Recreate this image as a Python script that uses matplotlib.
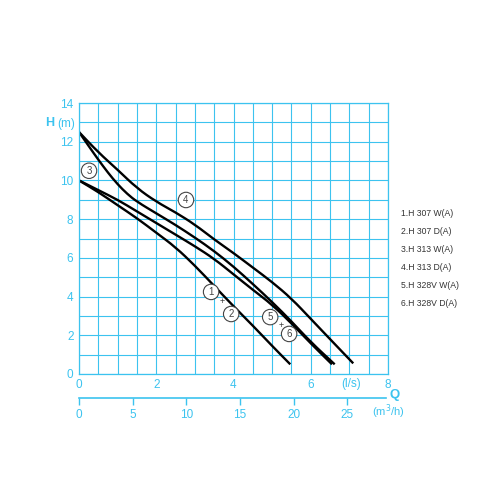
import numpy as np
import matplotlib.pyplot as plt
from matplotlib.path import Path
from matplotlib.patches import PathPatch

# pump curves, Q in l/s, H in m
q1 = [0, 0.5, 1.0, 1.5, 2.0, 2.5, 3.0, 3.5, 4.0, 4.5, 5.0, 5.47]
h1 = [10.0, 9.4, 8.72, 8.05, 7.3, 6.55, 5.6, 4.55, 3.5, 2.5, 1.45, 0.5]

q3 = [0, 0.25, 0.5, 0.75, 1.0, 1.25, 1.5, 2.0, 2.5, 3.0, 3.5, 4.0, 4.5, 5.0, 5.5, 6.0, 6.62]
h3 = [12.5, 11.78, 11.07, 10.4, 9.8, 9.3, 8.9, 8.3, 7.7, 7.05, 6.35, 5.55, 4.65, 3.72, 2.72, 1.65, 0.5]

q4 = [0, 0.5, 1.0, 1.5, 2.0, 2.5, 3.0, 3.5, 4.0, 4.5, 5.0, 5.5, 6.0, 6.5, 7.1]
h4 = [12.5, 11.45, 10.55, 9.6, 8.9, 8.35, 7.72, 6.95, 6.25, 5.5, 4.75, 3.9, 2.85, 1.8, 0.55]

q5 = [0, 0.5, 1.0, 1.5, 2.0, 2.5, 3.0, 3.5, 4.0, 4.5, 5.0, 5.5, 6.0, 6.55]
h5 = [10.0, 9.5, 9.0, 8.4, 7.8, 7.2, 6.6, 5.95, 5.15, 4.35, 3.58, 2.62, 1.58, 0.5]

legend_labels = ['1.H 307 W(A)', '2.H 307 D(A)', '3.H 313 W(A)',
                 '4.H 313 D(A)', '5.H 328V W(A)', '6.H 328V D(A)']

# circled curve numbers: (text, Q, H)
markers = [('1', 3.42, 4.24), ('2', 3.94, 3.1), ('3', 0.26, 10.5),
           ('4', 2.77, 8.99), ('5', 4.95, 2.94), ('6', 5.44, 2.07)]
plus_marks = [(3.7, 3.72), (5.23, 2.53)]

q_ls_ticks = [0, 2, 4, 6, 8]
q_m3h_ticks = [0, 5, 10, 15, 20, 25]

blue = '#3cc3ef'
W, H = 480, 480
plt.rcParams['font.family'] = ['Liberation Sans', 'DejaVu Sans']


def smooth_path(xs, ys):
    # quadratic bezier through midpoints, control points at the read values
    pts = list(zip(xs, ys))
    verts = [pts[0]]
    codes = [Path.MOVETO]
    mid = ((pts[0][0] + pts[1][0]) / 2, (pts[0][1] + pts[1][1]) / 2)
    verts.append(mid)
    codes.append(Path.LINETO)
    for i in range(1, len(pts) - 1):
        m = ((pts[i][0] + pts[i + 1][0]) / 2, (pts[i][1] + pts[i + 1][1]) / 2)
        verts += [pts[i], m]
        codes += [Path.CURVE3, Path.CURVE3]
    verts.append(pts[-1])
    codes.append(Path.LINETO)
    return Path(verts, codes)


fig = plt.figure(figsize=(4.8, 4.8), dpi=100)
ax = fig.add_axes([79 / W, 1 - 374 / H, 309 / W, 271 / H])

ax.set_xlim(0, 8)
ax.set_ylim(0, 14)
ax.set_xticks(q_ls_ticks)
ax.set_xticks(np.arange(0, 8.01, 0.5), minor=True)
ax.set_yticks(np.arange(0, 14.1, 2))
ax.set_yticks(np.arange(0, 14.1, 1), minor=True)
ax.grid(True, which='both', color=blue, lw=0.8)
ax.set_axisbelow(True)
for s in ax.spines.values():
    s.set_color(blue)
    s.set_linewidth(0.9)
ax.tick_params(which='both', length=0, colors=blue, labelsize=8.5)
ax.tick_params(axis='x', pad=3.5)
ax.tick_params(axis='y', pad=4)

for q, h in [(q1, h1), (q3, h3), (q4, h4), (q5, h5)]:
    ax.add_patch(PathPatch(smooth_path(q, h), fill=False, ec='black', lw=1.7))

for txt, x, y in markers:
    ax.text(x, y, txt, ha='center', va='center', fontsize=7, color='#444444',
            bbox=dict(boxstyle='circle,pad=0.28', fc='white', ec='#444444', lw=0.8))
for x, y in plus_marks:
    ax.text(x, y, '+', ha='center', va='center', fontsize=6.5, color='#333333')

fig.text(351 / W, 1 - 383.5 / H, '(l/s)', ha='center', va='center',
         fontsize=8.5, color=blue)
fig.text(45 / W, 1 - 123.5 / H, 'H', ha='left', va='center', fontsize=9,
         fontweight='bold', color=blue)
fig.text(57 / W, 1 - 123.5 / H, '(m)', ha='left', va='center', fontsize=8.5, color=blue)

# second Q scale in m3/h
ax2 = fig.add_axes([79 / W, 1 - 398 / H, 309 / W, 0.001])
ax2.set_xlim(0, 8 * 3.6)
for side in ['top', 'left', 'right']:
    ax2.spines[side].set_visible(False)
ax2.spines['bottom'].set_color(blue)
ax2.spines['bottom'].set_linewidth(1.2)
ax2.spines['bottom'].set_bounds(0, 28.6)
ax2.patch.set_visible(False)
ax2.set_yticks([])
ax2.set_xticks(q_m3h_ticks)
ax2.tick_params(axis='x', colors=blue, length=5, width=1.0, labelsize=8.5, pad=3)
fig.text(372 / W, 1 - 411.5 / H, '(m$^3$/h)', ha='left', va='center',
         fontsize=8, color=blue)
fig.text(395 / W, 1 - 395 / H, 'Q', ha='center', va='center', fontsize=9.5,
         fontweight='bold', color=blue)

for i, lab in enumerate(legend_labels):
    fig.text(401 / W, 1 - (214 + i * 17.8) / H, lab, ha='left', va='center',
             fontsize=6.2, color='#333333')

fig.savefig('out.png', dpi=100)
